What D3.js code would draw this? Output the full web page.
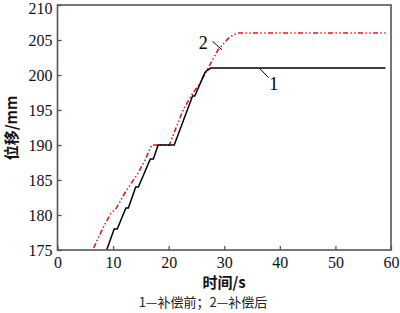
<!DOCTYPE html>
<html><head><meta charset="utf-8">
<script src="https://cdn.jsdelivr.net/npm/d3@7"></script>
<style>body{margin:0;background:#fff}svg{display:block}</style>
</head><body>
<svg id="c" width="400" height="313"></svg>
<script>
const xTicks = [0,10,20,30,40,50,60];
const yTicks = [175,180,185,190,195,200,205,210];
const series1Time = [8.85,10.2,10.75,12.3,12.75,14.07,14.55,16.7,17.25,18.1,21.0,24.3,24.7,26.5,26.8,27.6,59];
const series1Disp = [175,178,178,181,181,184,184,188,188,190,190,197,197,200.3,200.6,201,201];
const series2Time = [6.5,8.2,9.5,10.6,12.0,13.0,14.5,15.6,16.95,20.1,22.6,24.1,25.6,27.1,28.9,30.7,31.6,32.5,59.4];
const series2Disp = [175.3,178.2,180.1,181,183,184.2,186,187.6,190,190,195,197.1,198.8,201,203.6,205.2,205.7,206,206];
const xLabel = "时间/s";
const yLabel = "位移/mm";
const caption = "1—补偿前；2—补偿后";

const svg = d3.select("#c");
const L=57.5,R=391,T=5,B=250;
const x = d3.scaleLinear().domain([0,60]).range([L,R]);
const y = d3.scaleLinear().domain([175,210]).range([B,T]);
const axisCol="#555";
const serif='Liberation Serif';
const cjk='Noto Sans CJK SC';

svg.append("clipPath").attr("id","pc").append("rect")
  .attr("x",L).attr("y",T).attr("width",R-L).attr("height",B-T);

const line = d3.line().x(d=>x(d[0])).y(d=>y(d[1]));
const g = svg.append("g").attr("clip-path","url(#pc)");
g.append("path").datum(series2Time.map((t,i)=>[t,series2Disp[i]]))
  .attr("d",line).attr("fill","none").attr("stroke","#e8141c").attr("stroke-width",1.6)
  .attr("stroke-dasharray","5,2.4,1.4,2.4,1.4,2.4");
g.append("path").datum(series1Time.map((t,i)=>[t,series1Disp[i]]))
  .attr("d",line).attr("fill","none").attr("stroke","#000").attr("stroke-width",1.5);

svg.append("rect").attr("x",L).attr("y",T).attr("width",R-L).attr("height",B-T)
  .attr("fill","none").attr("stroke",axisCol).attr("stroke-width",1.6);

const xa = svg.append("g").attr("transform",`translate(0,${B})`)
  .call(d3.axisBottom(x).tickValues(xTicks).tickSize(-4).tickPadding(6).tickFormat(d3.format("d")));
const ya = svg.append("g").attr("transform",`translate(${L},0)`)
  .call(d3.axisLeft(y).tickValues(yTicks).tickSize(-4).tickPadding(5).tickFormat(d3.format("d")));
[xa,ya].forEach(a=>{
  a.attr("font-family",serif).attr("font-size",16);
  a.select(".domain").remove();
  a.selectAll("line").attr("stroke",axisCol).attr("stroke-width",1.3);
  a.selectAll("text").attr("font-family",serif).attr("font-size",16).attr("fill","#111");
});
xa.selectAll("text").attr("dy","0.72em");
ya.selectAll("text").attr("dy","0.36em");
ya.selectAll(".tick text").filter(d=>d===210).attr("dy","0.5em");

svg.append("text").attr("x",224).attr("y",288).attr("text-anchor","middle")
  .attr("font-family",cjk).attr("font-weight","bold").attr("font-size",15)
  .attr("fill","#111").text(xLabel);
svg.append("text").attr("transform","translate(17,128) rotate(-90)").attr("text-anchor","middle")
  .attr("font-family",cjk).attr("font-weight","bold").attr("font-size",15)
  .attr("fill","#111").text(yLabel);
svg.append("text").attr("x",203).attr("y",307).attr("text-anchor","middle")
  .attr("font-family",cjk).attr("font-size",13)
  .attr("fill","#222").text(caption);

svg.append("line").attr("x1",x(27.9)).attr("y1",y(204.8)).attr("x2",x(29.6)).attr("y2",y(203.6))
  .attr("stroke","#000").attr("stroke-width",1);
svg.append("text").attr("x",x(26.2)).attr("y",y(203.7)).attr("text-anchor","middle")
  .attr("font-family",serif).attr("font-size",18).text("2");
svg.append("line").attr("x1",x(36.3)).attr("y1",y(201)).attr("x2",x(38)).attr("y2",y(199.6))
  .attr("stroke","#000").attr("stroke-width",1);
svg.append("text").attr("x",x(38.9)).attr("y",y(197.8)).attr("text-anchor","middle")
  .attr("font-family",serif).attr("font-size",18).text("1");
</script>
</body></html>
